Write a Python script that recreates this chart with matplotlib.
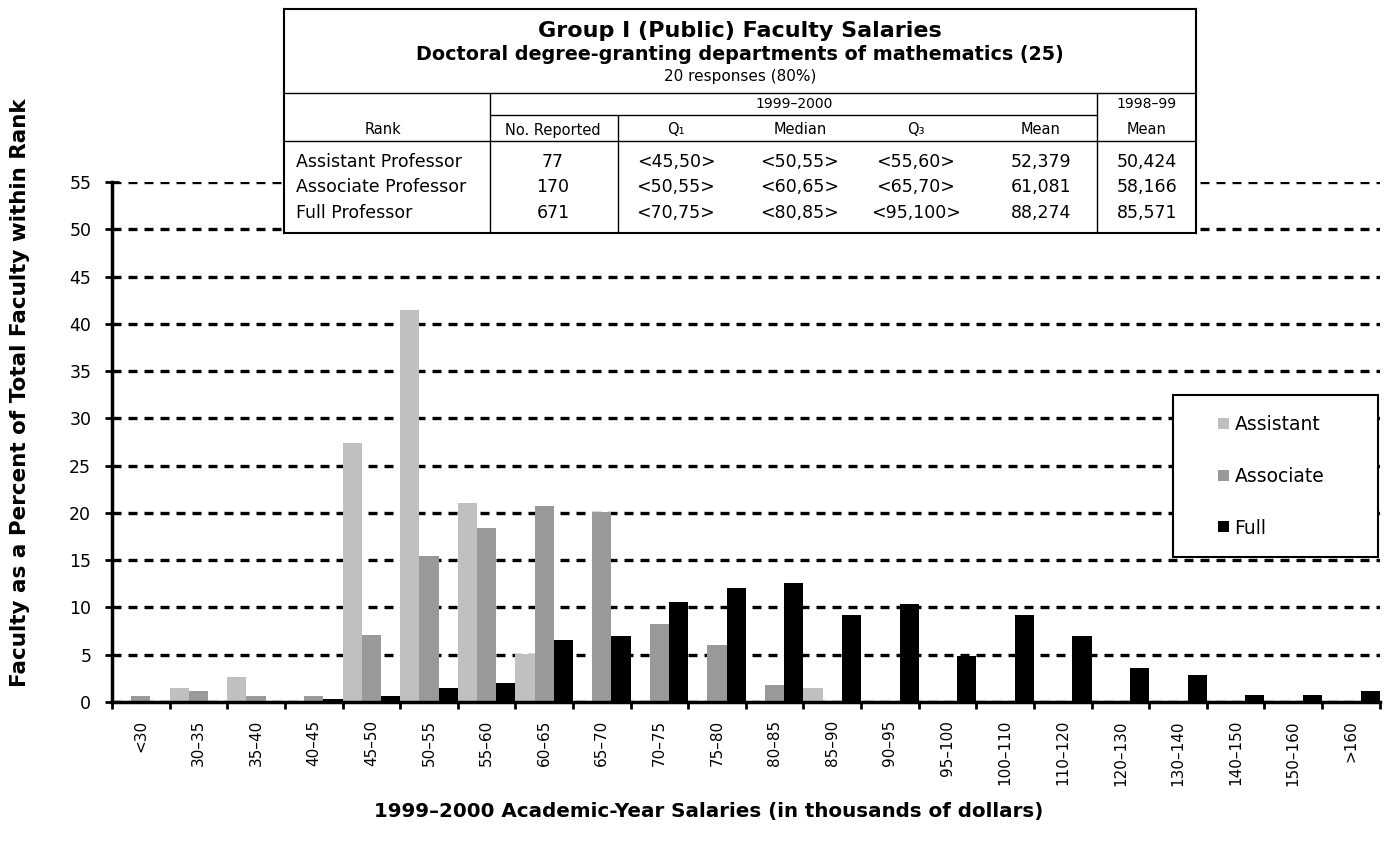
import numpy as np
import matplotlib
matplotlib.use("Agg")
import matplotlib.pyplot as plt
from matplotlib.container import BarContainer
from matplotlib.legend_handler import HandlerPatch, update_from_first_child
from matplotlib.patches import Rectangle

# salary brackets (thousands of dollars)
categories = ["<30", "30–35", "35–40", "40–45", "45–50", "50–55", "55–60",
              "60–65", "65–70", "70–75", "75–80", "80–85", "85–90", "90–95",
              "95–100", "100–110", "110–120", "120–130", "130–140",
              "140–150", "150–160", ">160"]

# percent of faculty within rank
assistant = [0, 1.5, 2.6, 0, 27.4, 41.5, 21.0, 5.1, 0, 0, 0, 0, 1.5,
             0, 0, 0, 0, 0, 0, 0, 0, 0]
associate = [0.6, 1.2, 0.6, 0.6, 7.1, 15.4, 18.4, 20.7, 20.1, 8.3, 6.0, 1.8, 0,
             0, 0, 0, 0, 0, 0, 0, 0, 0]
full = [0, 0, 0, 0.3, 0.6, 1.5, 2.0, 6.6, 7.0, 10.6, 12.1, 12.6, 9.2,
        10.4, 4.9, 9.2, 7.0, 3.6, 2.9, 0.7, 0.7, 1.2]

# summary table
ranks = ["Assistant Professor", "Associate Professor", "Full Professor"]
reported = ["77", "170", "671"]
q1 = ["<45,50>", "<50,55>", "<70,75>"]
median = ["<50,55>", "<60,65>", "<80,85>"]
q3 = ["<55,60>", "<65,70>", "<95,100>"]
mean_9900 = ["52,379", "61,081", "88,274"]
mean_9899 = ["50,424", "58,166", "85,571"]

plt.rcParams['font.family'] = ["DejaVu Sans"]

fig = plt.figure(figsize=(13.9, 8.49), dpi=100)
ax = fig.add_axes([0.0806, 0.1731, 0.912, 0.6125])


def nz(vals):
    # empty brackets get no bar at all
    a = np.array(vals, dtype=float)
    return np.where(a > 0, a, np.nan)


x = np.arange(len(categories))
w = 1 / 3
ax.bar(x - w, nz(assistant), w, color="#c0c0c0", label="Assistant", zorder=2)
ax.bar(x, nz(associate), w, color="#999999", label="Associate", zorder=2)
ax.bar(x + w, nz(full), w, color="black", label="Full", zorder=2)

ax.set_xlim(-0.5, len(categories) - 0.5)
ax.set_ylim(0, 55)
ax.set_yticks(range(0, 56, 5))
ax.yaxis.grid(True, color="black", lw=2.4, linestyle=(0, (2.7, 2.1)))
ax.set_axisbelow(True)

ax.set_xticks(x)
ax.set_xticklabels(categories, rotation=90, fontsize=11)
ax.tick_params(axis="x", which="major", length=0, pad=13)
ax.set_xticks(np.arange(-0.5, len(categories), 1), minor=True)
ax.tick_params(axis="x", which="minor", length=5, width=2, direction="out")
ax.tick_params(axis="y", length=10, width=2, direction="inout", labelsize=12.5, pad=10)

for s in ["top", "right"]:
    ax.spines[s].set_visible(False)
for s in ["left", "bottom"]:
    ax.spines[s].set_linewidth(2.5)
    ax.spines[s].set_zorder(3)

ax.set_ylabel("Faculty as a Percent of Total Faculty within Rank",
              fontsize=15.5, fontweight="bold")
ax.yaxis.set_label_coords(-0.0726, 0.594)
ax.yaxis.label.set_va("center")
ax.set_xlabel("1999–2000 Academic-Year Salaries (in thousands of dollars)",
              fontsize=14.3, fontweight="bold")
ax.xaxis.set_label_coords(0.471, -0.21)
ax.xaxis.label.set_va("center")


def small_square(legend, orig_handle, xdescent, ydescent, width, height, fontsize):
    s = 11 * 72 / 100
    return Rectangle((-xdescent + width - s, -ydescent + (height - s) / 2), s, s)


leg = ax.legend(loc="upper left",
                bbox_to_anchor=(0.8367, 0.269, 0.1617, 0.321),
                mode="expand", fontsize=13.5, frameon=True, fancybox=False,
                edgecolor="black", framealpha=1, borderpad=1.05,
                labelspacing=1.75, handlelength=1.95, handleheight=0.7,
                handletextpad=0.3, borderaxespad=0,
                handler_map={BarContainer: HandlerPatch(patch_func=small_square,
                                                        update_func=update_from_first_child)})
leg.get_frame().set_linewidth(1.5)

# table drawn in pixel-like coordinates
tab = fig.add_axes([284 / 1390, 1 - 233 / 849, 912 / 1390, 224 / 849])
tab.set_xlim(284, 1196)
tab.set_ylim(233, 9)
tab.set_xticks([])
tab.set_yticks([])
for s in tab.spines.values():
    s.set_linewidth(1.5)

tab.text(740, 31, "Group I (Public) Faculty Salaries", ha="center", va="center",
         fontsize=16, fontweight="bold")
tab.text(740, 54, "Doctoral degree-granting departments of mathematics (25)",
         ha="center", va="center", fontsize=13.8, fontweight="bold")
tab.text(740, 77, "20 responses (80%)", ha="center", va="center", fontsize=11)

tab.hlines([93, 141], 284, 1196, color="black", lw=1)
tab.hlines(115, 490, 1097, color="black", lw=1)
tab.vlines([490, 1097], 93, 233, color="black", lw=1)
tab.vlines(618, 115, 233, color="black", lw=1)

tab.text(794, 104, "1999–2000", ha="center", va="center", fontsize=10)
tab.text(1147, 104, "1998–99", ha="center", va="center", fontsize=10)

col_x = [383, 553, 676, 800, 916, 1041, 1147]
headers = ["Rank", "No. Reported", "Q₁", "Median", "Q₃", "Mean", "Mean"]
for cx, h in zip(col_x, headers):
    tab.text(cx, 130, h, ha="center", va="center", fontsize=10.5)

row_y = [162, 187.5, 213]
for i, ry in enumerate(row_y):
    tab.text(296, ry, ranks[i], ha="left", va="center", fontsize=12.5)
    vals = [reported[i], q1[i], median[i], q3[i], mean_9900[i], mean_9899[i]]
    for cx, v in zip(col_x[1:], vals):
        tab.text(cx, ry, v, ha="center", va="center", fontsize=12.5)

fig.savefig("out.png", dpi=100)
